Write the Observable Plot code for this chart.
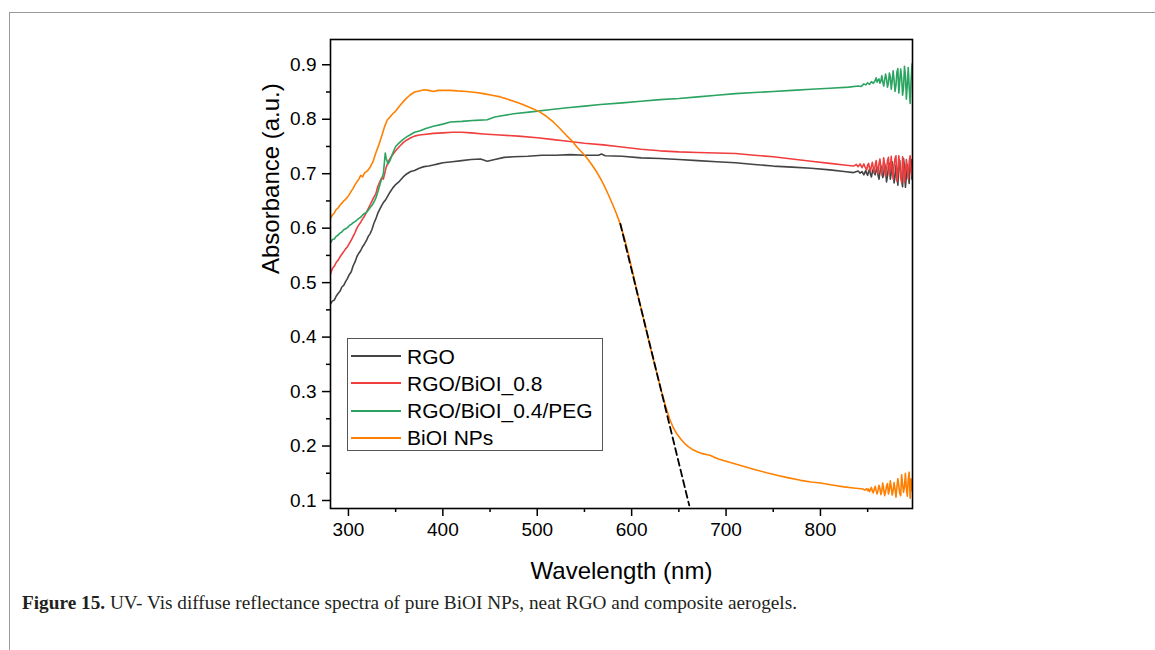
<!DOCTYPE html>
<html>
<head>
<meta charset="utf-8">
<script src="https://cdn.jsdelivr.net/npm/d3@7"></script>
<script src="https://cdn.jsdelivr.net/npm/@observablehq/plot@0.6"></script>
<style>
  html, body { margin: 0; padding: 0; background: white; }
  #fig { position: relative; width: 1155px; height: 650px; overflow: hidden; }
  #border { position: absolute; left: 9px; top: 12px; width: 1200px; height: 700px;
            border-left: 1.5px solid #9a9a9a; border-top: 1.5px solid #9a9a9a; }
  #chart { position: absolute; left: 0; top: 0; }
  #legend { position: absolute; left: 347px; top: 338px; width: 256px; height: 113px; box-sizing: border-box;
            border: 1.5px solid #555; background: white; font-family: 'Liberation Sans', Arial, sans-serif; font-size: 21px; }
  .row { position: absolute; left: 0; width: 100%; height: 27px; }
  .swatch { position: absolute; left: 3px; top: 12.5px; width: 50px; height: 2px; }
  .lab { position: absolute; left: 59px; top: 0; white-space: nowrap; line-height: 27px; }
  #caption { position: absolute; left: 22px; top: 592px; font-family: 'Liberation Serif', 'Times New Roman', serif;
             font-size: 19px; white-space: nowrap; color: #231f20; transform-origin: 0 0; }
</style>
</head>
<body>
<div id="fig">
  <div id="border"></div>
  <div id="chart"></div>
  <div id="legend"></div>
  <div id="caption"><b>Figure 15.</b> UV- Vis diffuse reflectance spectra of pure BiOI NPs, neat RGO and composite aerogels.</div>
</div>
<script>
// ---- data: [wavelength (nm), absorbance (a.u.)] ----
const rgo = [
  [281,0.461],[283,0.466],[285,0.468],[287,0.475],[289,0.480],[291,0.484],[293,0.492],[295,0.495],
  [297,0.502],[299,0.508],[301,0.515],[303,0.520],[305,0.531],[307,0.538],[309,0.548],[311,0.554],
  [313,0.559],[315,0.566],[317,0.571],[319,0.577],[321,0.585],[323,0.590],[325,0.598],[327,0.609],
  [329,0.617],[331,0.627],[333,0.634],[335,0.641],[337,0.647],[339,0.651],[341,0.657],[344,0.666],
  [347,0.674],[350,0.680],[354,0.686],[358,0.694],[362,0.700],[366,0.704],[370,0.706],[375,0.710],
  [380,0.713],[385,0.714],[390,0.716],[395,0.718],[400,0.720],[410,0.722],[420,0.724],[430,0.726],
  [440,0.727],[447,0.723],[455,0.726],[465,0.730],[475,0.731],[490,0.732],[505,0.734],[520,0.734],
  [535,0.735],[550,0.734],[565,0.734],[568,0.736],[572,0.733],[590,0.732],[610,0.729],[630,0.728],
  [650,0.726],[670,0.724],[690,0.722],[710,0.720],[730,0.717],[750,0.714],[770,0.712],[790,0.710],
  [810,0.707],[825,0.704],[835,0.702],[840,0.705],[842,0.701],[844,0.704],[846,0.698],[848,0.706],
  [849,0.700],[850,0.697],[851,0.704],[852,0.708],[853,0.699],[854,0.694],[855,0.703],[856,0.709],
  [857,0.701],[858,0.698],[859,0.706],[860,0.712],[861,0.697],[862,0.690],[863,0.702],[864,0.715],
  [865,0.705],[866,0.693],[867,0.699],[868,0.718],[869,0.706],[870,0.685],[871,0.696],[872,0.711],
  [873,0.719],[874,0.690],[875,0.701],[876,0.722],[877,0.708],[878,0.683],[879,0.694],[880,0.716],
  [881,0.700],[882,0.679],[883,0.711],[884,0.724],[885,0.703],[886,0.688],[887,0.676],[888,0.728],
  [889,0.712],[890,0.675],[891,0.695],[892,0.717],[893,0.700],[894,0.682],[895,0.721],[896,0.726],
  [897,0.690],[898,0.710]
];
const rgoBiOI08 = [
  [281,0.516],[283,0.526],[285,0.530],[287,0.537],[289,0.541],[291,0.547],[293,0.552],[295,0.557],
  [297,0.562],[299,0.566],[301,0.572],[303,0.578],[305,0.585],[307,0.592],[309,0.600],[311,0.606],
  [313,0.611],[315,0.617],[317,0.622],[319,0.629],[321,0.636],[323,0.643],[325,0.650],[327,0.657],
  [329,0.663],[331,0.676],[333,0.684],[335,0.692],[337,0.690],[340,0.712],[343,0.725],[346,0.733],
  [350,0.742],[354,0.750],[358,0.757],[362,0.762],[366,0.766],[370,0.769],[375,0.771],[380,0.772],
  [390,0.774],[400,0.775],[410,0.776],[420,0.776],[430,0.775],[443,0.773],[460,0.771],[480,0.769],
  [500,0.766],[515,0.763],[530,0.760],[550,0.756],[570,0.753],[585,0.750],[610,0.745],[630,0.742],
  [650,0.740],[670,0.739],[690,0.738],[710,0.737],[730,0.734],[750,0.731],[770,0.727],[790,0.723],
  [810,0.719],[825,0.716],[835,0.714],[838,0.717],[840,0.713],[842,0.718],[844,0.711],[846,0.718],
  [847,0.713],[849,0.707],[850,0.716],[851,0.719],[852,0.710],[853,0.705],[854,0.714],[855,0.721],
  [856,0.711],[857,0.702],[858,0.716],[859,0.724],[860,0.709],[861,0.700],[862,0.718],[863,0.727],
  [864,0.712],[865,0.698],[866,0.711],[867,0.729],[868,0.716],[869,0.695],[870,0.707],[871,0.724],
  [872,0.730],[873,0.698],[874,0.712],[875,0.732],[876,0.706],[877,0.690],[878,0.715],[879,0.728],
  [880,0.733],[881,0.686],[882,0.704],[883,0.733],[884,0.718],[885,0.692],[886,0.684],[887,0.731],
  [888,0.720],[889,0.684],[890,0.701],[891,0.726],[892,0.711],[893,0.690],[894,0.722],[895,0.733],
  [896,0.705],[897,0.695],[898,0.720]
];
const rgoBiOI04PEG = [
  [281,0.573],[283,0.579],[285,0.580],[287,0.585],[289,0.587],[291,0.591],[293,0.593],[295,0.597],
  [297,0.599],[299,0.601],[301,0.605],[303,0.607],[305,0.610],[307,0.612],[309,0.615],[311,0.618],
  [313,0.620],[315,0.624],[317,0.627],[319,0.629],[321,0.633],[323,0.638],[325,0.642],[327,0.648],
  [329,0.655],[331,0.666],[333,0.678],[335,0.690],[337,0.700],[339,0.738],[340,0.728],[342,0.718],
  [344,0.724],[347,0.738],[350,0.750],[354,0.757],[358,0.763],[362,0.768],[366,0.772],[370,0.776],
  [376,0.779],[382,0.783],[390,0.787],[400,0.791],[408,0.795],[420,0.796],[435,0.798],[447,0.799],
  [455,0.804],[461,0.806],[475,0.810],[496,0.814],[515,0.818],[532,0.821],[550,0.824],[567,0.827],
  [590,0.830],[610,0.833],[630,0.836],[650,0.838],[670,0.841],[690,0.844],[710,0.847],[730,0.849],
  [750,0.851],[770,0.853],[790,0.855],[810,0.857],[830,0.859],[840,0.861],[843,0.860],[846,0.865],
  [848,0.863],[850,0.867],[852,0.864],[854,0.869],[856,0.866],[858,0.871],[859,0.876],[860,0.868],
  [861,0.872],[862,0.874],[863,0.866],[864,0.870],[865,0.880],[866,0.869],[867,0.861],[868,0.872],
  [869,0.883],[870,0.874],[871,0.859],[872,0.866],[873,0.885],[874,0.878],[875,0.855],[876,0.870],
  [877,0.889],[878,0.872],[879,0.851],[880,0.862],[881,0.887],[882,0.893],[883,0.848],[884,0.869],
  [885,0.892],[886,0.876],[887,0.844],[888,0.858],[889,0.897],[890,0.880],[891,0.837],[892,0.864],
  [893,0.895],[894,0.858],[895,0.829],[896,0.871],[897,0.901],[898,0.905]
];
const biOINPs = [
  [281,0.618],[283,0.624],[285,0.628],[287,0.634],[289,0.637],[291,0.642],[293,0.646],[295,0.650],
  [297,0.653],[299,0.657],[301,0.662],[303,0.668],[305,0.673],[307,0.680],[309,0.685],[311,0.690],
  [313,0.697],[315,0.694],[317,0.701],[320,0.705],[323,0.712],[326,0.722],[329,0.738],[332,0.752],
  [335,0.768],[338,0.785],[341,0.798],[344,0.804],[347,0.810],[350,0.815],[355,0.826],[360,0.836],
  [365,0.844],[370,0.850],[375,0.852],[380,0.854],[385,0.853],[390,0.851],[395,0.853],[400,0.853],
  [408,0.853],[415,0.852],[425,0.851],[435,0.849],[443,0.847],[452,0.844],[461,0.841],[468,0.837],
  [475,0.833],[482,0.829],[489,0.824],[496,0.819],[503,0.813],[510,0.805],[517,0.795],[524,0.783],
  [531,0.770],[537,0.760],[542,0.749],[548,0.738],[553,0.728],[558,0.716],[563,0.703],[568,0.688],
  [572,0.674],[576,0.659],[580,0.643],[584,0.626],[588,0.607],[592,0.584],[596,0.557],[600,0.527],
  [604,0.497],[608,0.467],[612,0.438],[616,0.409],[620,0.380],[624,0.352],[628,0.325],[632,0.298],
  [636,0.273],[640,0.251],[644,0.234],[648,0.222],[652,0.213],[656,0.205],[660,0.199],[665,0.193],
  [670,0.189],[675,0.186],[680,0.184],[683,0.183],[687,0.180],[692,0.176],[700,0.172],[710,0.167],
  [720,0.162],[730,0.157],[743,0.151],[755,0.146],[765,0.142],[779,0.137],[790,0.134],[800,0.132],
  [814,0.128],[825,0.125],[835,0.123],[845,0.121],[847,0.119],[849,0.122],[850,0.118],[851,0.121],
  [852,0.116],[853,0.120],[854,0.124],[855,0.117],[856,0.114],[857,0.121],[858,0.126],[859,0.118],
  [860,0.112],[861,0.119],[862,0.128],[863,0.122],[864,0.111],[865,0.118],[866,0.132],[867,0.120],
  [868,0.109],[869,0.116],[870,0.127],[871,0.131],[872,0.112],[873,0.120],[874,0.136],[875,0.124],
  [876,0.110],[877,0.118],[878,0.133],[879,0.121],[880,0.106],[881,0.125],[882,0.140],[883,0.127],
  [884,0.113],[885,0.109],[886,0.147],[887,0.130],[888,0.115],[889,0.126],[890,0.150],[891,0.122],
  [892,0.108],[893,0.139],[894,0.152],[895,0.104],[896,0.140],[897,0.118],[898,0.137]
];
const tangent = [[588,0.608],[661,0.091]];

const seriesNames  = ["RGO", "RGO/BiOI_0.8", "RGO/BiOI_0.4/PEG", "BiOI NPs"];
const seriesData   = [rgo, rgoBiOI08, rgoBiOI04PEG, biOINPs];
const seriesColors = ["#444444", "#f03e3e", "#2ca461", "#ff8000"];

const xTicks = [300, 400, 500, 600, 700, 800];
const xMinorTicks = [350, 450, 550, 650, 750, 850];
const yTicks = [0.1, 0.2, 0.3, 0.4, 0.5, 0.6, 0.7, 0.8, 0.9];
const yMinorTicks = [0.15, 0.25, 0.35, 0.45, 0.55, 0.65, 0.75, 0.85];
const xLabel = "Wavelength (nm)";
const yLabel = "Absorbance (a.u.)";

// ---- chart ----
const X = d => d[0], Y = d => d[1];
const plot = Plot.plot({
  width: 1155,
  height: 590,
  marginLeft: 330,
  marginRight: 243,
  marginTop: 39,
  marginBottom: 82,
  x: {domain: [281, 897.5]},
  y: {domain: [0.0853, 0.9464]},
  style: {fontFamily: "'Liberation Sans', Arial, sans-serif", background: "transparent", color: "black", overflow: "visible"},
  marks: [
    ...seriesData.map((data, i) => Plot.line(data, {x: X, y: Y, stroke: seriesColors[i], strokeWidth: 1.6, clip: true})),
    Plot.line(tangent, {x: X, y: Y, stroke: "black", strokeWidth: 1.8, strokeDasharray: "7,4"}),
    Plot.frame({stroke: "black", strokeWidth: 1.6}),
    Plot.axisX({ticks: xTicks, tickSize: 8, tickPadding: 6, fontSize: 19, strokeWidth: 1.5, label: null, tickFormat: d => String(d)}),
    Plot.axisX({ticks: xMinorTicks, tickSize: 4, strokeWidth: 1.5, label: null, tickFormat: () => ""}),
    Plot.axisY({ticks: yTicks, tickSize: 8, tickPadding: 6, fontSize: 19, strokeWidth: 1.5, label: null, tickFormat: d3.format(".1f")}),
    Plot.axisY({ticks: yMinorTicks, tickSize: 4, strokeWidth: 1.5, label: null, tickFormat: () => ""}),
    Plot.text([xLabel], {frameAnchor: "bottom", dy: 63, text: d => d, fontSize: 24, lineAnchor: "middle"}),
    Plot.text([yLabel], {frameAnchor: "left", dx: -59, rotate: -90, text: d => d, fontSize: 24, lineAnchor: "middle"})
  ]
});
document.getElementById("chart").appendChild(plot);

// ---- legend ----
const legend = document.getElementById("legend");
const rowTops = [3.5, 30.8, 58.1, 85.4];
seriesNames.forEach((name, i) => {
  const row = document.createElement("div");
  row.className = "row";
  row.style.top = rowTops[i] + "px";
  const sw = document.createElement("div");
  sw.className = "swatch";
  sw.style.backgroundColor = seriesColors[i];
  const lab = document.createElement("div");
  lab.className = "lab";
  lab.textContent = name;
  row.appendChild(sw);
  row.appendChild(lab);
  legend.appendChild(row);
});

// ---- caption width fit ----
const cap = document.getElementById("caption");
const w = cap.getBoundingClientRect().width;
cap.style.transform = `scaleX(${775 / w})`;
</script>
</body>
</html>
